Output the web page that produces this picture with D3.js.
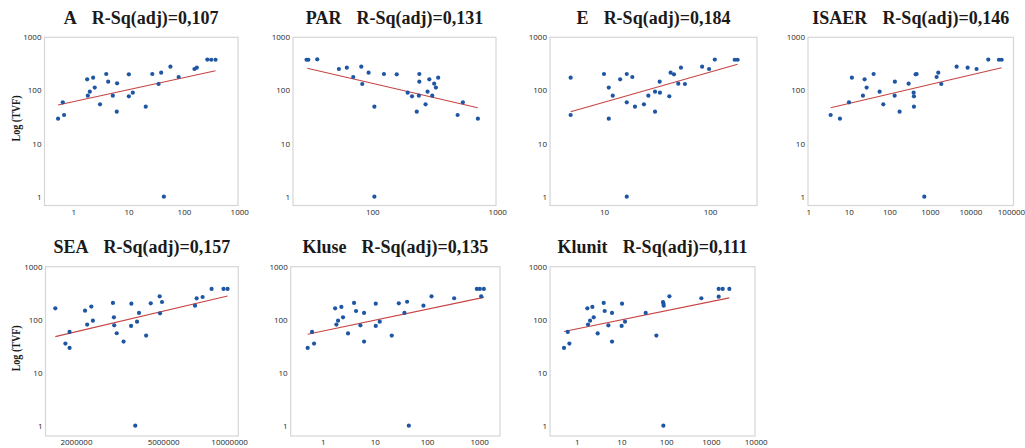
<!DOCTYPE html>
<html>
<head>
<meta charset="utf-8">
<script src="https://cdn.jsdelivr.net/npm/d3@7"></script>
<style>
  html, body { margin: 0; padding: 0; background: #fff; }
  svg { display: block; }
</style>
</head>
<body>
<svg id="chart" width="1025" height="448"></svg>
<script>
// ---- data: TVF against each predictor (log-log scatter with fitted line) ----
const panelNames = ["A", "PAR", "E", "ISAER", "SEA", "Kluse", "Klunit"];
const rsqLabels = ["0,107", "0,131", "0,184", "0,146", "0,157", "0,135", "0,111"];

const xA = [0.53,0.645,0.68,1.78,1.83,1.99,2.28,2.44,3.04,3.94,4.27,5.18,6.1,6.19,10.1,10.1,11.9,20.4,26.8,34.8,38.8,43.4,57,80.3,155,171,265,312,373];
const yA = [29.4,59.7,34.5,162,79.6,94.8,174,113,54.7,204,146,79.6,39.8,136,201,77.4,90.8,49.4,204,132,216,1,280,179,253,268,380,378,378];

const xPAR = [29.8,30.8,36.3,54.1,62.6,81.7,70.5,93.5,83.2,124,157,104,104,192,208,236,238,238,227,267,277,286,302,313,323,337,482,531,700];
const yPAR = [378,378,385,253,268,280,179,216,132,204,201,49.4,1,90.8,77.4,79.6,204,146,39.8,54.7,94.8,162,79.6,134,113,174,34.5,59.7,29.4];

const xE = [4.85,4.85,10,11.1,11.1,12.1,14.2,16.4,16.4,16.4,18.5,19.6,23.8,26.2,30.3,30.3,33.5,33.7,41.3,42.5,45.7,50.2,53.2,58,84.2,98,111,171,182];
const yE = [174,34.5,204,113,29.4,79.6,162,204,59.7,1,179,49.4,54.7,79.6,39.8,94.8,146,90.8,77.4,216,201,134,268,132,280,253,380,378,378];

const xISAER = [3.56,6.04,10.1,11.9,22.3,24.5,27.5,40.9,57.5,70.8,135,137,179,299,397,404,404,445,471,728,1466,1611,1910,4570,8540,14200,27600,50600,58900];
const yISAER = [34.5,29.4,59.7,174,79.6,162,113,204,94.8,54.7,79.6,146,39.8,134,90.8,77.4,49.4,201,204,1,179,216,132,280,268,253,380,378,378];

const xSEA = [1.61e6,1.79e6,1.87e6,1.87e6,2.2e6,2.25e6,2.35e6,2.39e6,2.95e6,2.98e6,2.99e6,3.07e6,3.3e6,3.57e6,3.58e6,3.73e6,3.8e6,3.88e6,4.18e6,4.39e6,4.82e6,4.84e6,4.94e6,6.99e6,7.11e6,7.57e6,8.32e6,9.43e6,9.84e6];
const ySEA = [164,35.5,29.4,58.8,148,80.8,177,96,207,111,78.5,55.5,38.7,76.3,201,1,92,134,50.2,204,276,132,216,184,253,268,380,380,380];

const xKluse = [0.515,0.624,0.682,1.73,1.83,1.97,2.28,2.45,3.06,3.99,4.36,5.28,6.21,6.21,10.4,10.4,12.4,21.1,28.8,36.9,41.5,44.8,85.5,122,332,1094,903,1030,1231];
const yKluse = [29.4,58.8,35.5,164,80.8,96,174,111,55,207,146,78.5,134,38.7,201,76.3,92,50.2,204,134,218,1,184,276,254,276,380,380,380];

const xKlunit = [0.52,0.63,0.686,1.73,1.79,1.99,2.24,2.4,2.94,4.01,4.22,5.1,6.16,6.16,10.3,10.1,12,34.8,60.3,85,87,88,86.4,118,611,1490,1490,1833,2580];
const yKlunit = [29.4,58.8,35.5,164,80.8,96,174,111,55,207,146,78.5,134,38.7,201,76.3,92,134,50.2,216,201,184,1,276,254,272,380,380,380];

// fitted regression line end points [x, TVF]
const fitA = [[0.53, 53], [373, 235]];
const fitPAR = [[30.2, 261], [698, 47.3]];
const fitE = [[4.85, 39.8], [182, 310]];
const fitISAER = [[3.56, 47.3], [58900, 268]];
const fitSEA = [[1.61e6, 48], [9.84e6, 280]];
const fitKluse = [[0.515, 53], [1231, 264]];
const fitKlunit = [[0.52, 60], [2580, 258]];

// tick labels
const yTicks = [1, 10, 100, 1000];
const xTicksA = [1, 10, 100, 1000];
const xTicksPAR = [100, 1000];
const xTicksE = [10, 100];
const xTicksISAER = [1, 10, 100, 1000, 10000, 100000];
const xTicksSEA = [2000000, 5000000, 10000000];
const xTicksKluse = [1, 10, 100, 1000];
const xTicksKlunit = [1, 10, 100, 1000, 10000];

const yLabel = "Log (TVF)";

// ---- layout ----
const rows = [
  { top: 37.3, bottom: 205.5, yMinLog: -0.166 },
  { top: 266.7, bottom: 436, yMinLog: -0.194 }
];
const panels = [
  { x: xA, y: yA, fit: fitA, ticks: xTicksA, row: 0, left: 44.5, right: 238, dom: [-0.521, 2.978], yAxisTitle: true },
  { x: xPAR, y: yPAR, fit: fitPAR, ticks: xTicksPAR, row: 0, left: 293, right: 496, dom: [1.366, 2.99] },
  { x: xE, y: yE, fit: fitE, ticks: xTicksE, row: 0, left: 550, right: 757, dom: [0.491, 2.443] },
  { x: xISAER, y: yISAER, fit: fitISAER, ticks: xTicksISAER, row: 0, left: 808, right: 1013.5, dom: [-0.007, 5.063] },
  { x: xSEA, y: ySEA, fit: fitSEA, ticks: xTicksSEA, row: 1, left: 45.5, right: 238.3, dom: [6.162, 7.042], yAxisTitle: true },
  { x: xKluse, y: yKluse, fit: fitKluse, ticks: xTicksKluse, row: 1, left: 290.7, right: 500, dom: [-0.614, 3.40] },
  { x: xKlunit, y: yKlunit, fit: fitKlunit, ticks: xTicksKlunit, row: 1, left: 550, right: 755, dom: [-0.597, 3.985] }
];

const svg = d3.select("#chart");
const tickFont = "'Open Sans', 'Noto Sans', sans-serif";
const titleFont = "'Liberation Serif', 'Times New Roman', serif";

panels.forEach((p, i) => {
  const r = rows[p.row];
  const xs = d3.scaleLog().domain([10 ** p.dom[0], 10 ** p.dom[1]]).range([p.left, p.right]);
  const ys = d3.scaleLog().domain([10 ** r.yMinLog, 1000]).range([r.bottom, r.top]);
  const g = svg.append("g");

  // plot frame
  g.append("rect")
    .attr("x", p.left).attr("y", r.top)
    .attr("width", p.right - p.left).attr("height", r.bottom - r.top)
    .attr("fill", "#fff").attr("stroke", "#d6d6d6").attr("stroke-width", 1.2);

  // y axis labels
  const yAxis = d3.axisLeft(ys).tickValues(yTicks).tickFormat(d => String(d)).tickSize(0).tickPadding(3);
  const ya = g.append("g").attr("transform", `translate(${p.left},0)`).call(yAxis);
  ya.select(".domain").remove();
  ya.selectAll("text").attr("font-family", tickFont).attr("font-size", 8).attr("fill", "#262626");

  // x axis labels
  const xAxis = d3.axisBottom(xs).tickValues(p.ticks).tickFormat(d => String(d)).tickSize(0).tickPadding(3.5);
  const xa = g.append("g").attr("transform", `translate(0,${r.bottom})`).call(xAxis);
  xa.select(".domain").remove();
  xa.selectAll("text").attr("font-family", tickFont).attr("font-size", 8).attr("fill", "#262626");

  // fitted line
  g.append("line")
    .attr("x1", xs(p.fit[0][0])).attr("y1", ys(p.fit[0][1]))
    .attr("x2", xs(p.fit[1][0])).attr("y2", ys(p.fit[1][1]))
    .attr("stroke", "#c64543").attr("stroke-width", 1.1);

  // points
  g.selectAll("circle.pt")
    .data(p.x.map((v, k) => [v, p.y[k]]))
    .join("circle")
    .attr("class", "pt")
    .attr("cx", d => xs(d[0])).attr("cy", d => ys(d[1]))
    .attr("r", 2.1)
    .attr("fill", "#1f56a3");

  // panel title
  const t = svg.append("text")
    .attr("x", (p.left + p.right) / 2)
    .attr("y", r.top - 13.5)
    .attr("text-anchor", "middle")
    .attr("font-family", titleFont)
    .attr("font-weight", "bold")
    .attr("font-size", 18)
    .attr("fill", "#1a1a1a");
  t.append("tspan").text(panelNames[i]);
  t.append("tspan").attr("dx", 15).text(`R-Sq(adj)=${rsqLabels[i]}`);

  // y axis title
  if (p.yAxisTitle) {
    const cy = (r.top + r.bottom) / 2 - 3;
    svg.append("text")
      .attr("transform", `translate(19.5,${cy}) rotate(-90)`)
      .attr("text-anchor", "middle")
      .attr("font-family", titleFont)
      .attr("font-weight", "bold")
      .attr("font-size", 12.5)
      .attr("textLength", 46)
      .attr("lengthAdjust", "spacingAndGlyphs")
      .attr("fill", "#1a1a1a")
      .text(yLabel);
  }
});
</script>
</body>
</html>
